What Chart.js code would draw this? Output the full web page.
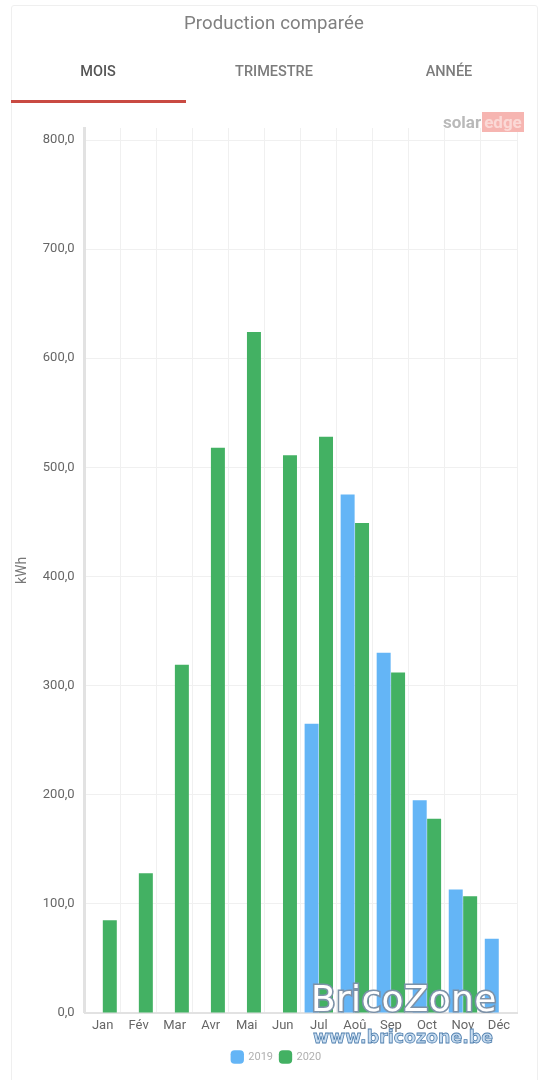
<!DOCTYPE html>
<html lang="fr"><head><meta charset="utf-8">
<script src="https://cdn.jsdelivr.net/npm/chart.js@4/dist/chart.umd.min.js"></script>
<style>
html,body{margin:0;padding:0;background:#fff;width:548px;height:1080px;overflow:hidden;font-family:Roboto,sans-serif}
#card{position:absolute;left:11px;top:5px;width:525px;height:1090px;border:1px solid #efefef;border-radius:3px}
#wrap{position:absolute;left:0;top:0;width:548px;height:1080px}
.t{position:absolute;white-space:nowrap;transform:translateX(-50%)}
#title{left:274px;top:12px;font-size:18.6px;color:#808080;letter-spacing:.1px}
.tab{top:63px;font-size:14.5px;font-weight:500;color:#7c7c7c}
#line{position:absolute;left:11px;top:100px;width:175px;height:3px;background:#c94a42}
#logo{position:absolute;left:443px;top:112px;font:700 17px Roboto,sans-serif;color:#b9b9b9;white-space:nowrap}
#logo span{background:#f6b5b1;color:#fbd9d6;padding:0 2px;margin-left:1px}
#wm1{position:absolute;left:311px;top:978px;font:400 36px "DejaVu Sans",sans-serif;color:#fff;-webkit-text-stroke:3.2px #7d92a8;paint-order:stroke fill;letter-spacing:.3px;white-space:nowrap}
#wm2{position:absolute;left:313px;top:1027px;font:700 17.4px "DejaVu Sans",sans-serif;color:#c9ddf0;-webkit-text-stroke:.8px #4f7fae;white-space:nowrap}
</style></head><body>
<div id="card"></div>
<div id="wrap"><canvas id="c" width="548" height="1080"></canvas></div>
<div class="t" id="title">Production comparée</div>
<div class="t tab" style="left:98px;color:#555">MOIS</div>
<div class="t tab" style="left:274px">TRIMESTRE</div>
<div class="t tab" style="left:449px">ANNÉE</div>
<div id="line"></div>
<div id="logo">solar<span>edge</span></div>
<div id="wm1">BricoZone</div>
<div id="wm2">www.bricozone.be</div>
<script>
const categories=["Jan","Fév","Mar","Avr","Mai","Jun","Jul","Aoû","Sep","Oct","Nov","Déc"];
const values2019=[null,null,null,null,null,null,265,475,330,195,113,68];
const values2020=[85,128,319,518,624,511,528,449,312,178,107,null];
const yMax=811, yStep=100;
const shiftLegend={id:'shiftLegend',afterLayout(chart){chart.legend.left+=11;chart.legend.right+=11;}};
new Chart(document.getElementById('c'),{
 type:'bar',
 plugins:[shiftLegend],
 data:{labels:categories,datasets:[
  {label:'2019',data:values2019,backgroundColor:'#64b5f6',categoryPercentage:.8,barPercentage:.97},
  {label:'2020',data:values2020,backgroundColor:'#43b163',categoryPercentage:.8,barPercentage:.97}]},
 options:{responsive:false,animation:false,
  layout:{padding:{top:128,left:14,right:31,bottom:7.5}},
  plugins:{tooltip:{enabled:false},title:{display:false},
   legend:{position:'bottom',labels:{usePointStyle:true,pointStyle:'rectRounded',boxWidth:13,boxHeight:13,padding:7,color:'#b0b0b0',font:{family:'Roboto',size:11}}}},
  scales:{
   x:{grid:{color:'#f0f0f0',drawTicks:false,lineWidth:1},border:{color:'#e2e2e2',width:2},
      afterFit(s){s.height+=6;},
      ticks:{color:'#666',font:{family:'Roboto',size:13},padding:5,maxRotation:0,autoSkip:false}},
   y:{min:0,max:yMax,grid:{color:'#f0f0f0',drawTicks:false},border:{color:'#e2e2e2',width:3},
      title:{display:true,text:'kWh',color:'#777',font:{family:'Roboto',size:14},padding:{top:0,bottom:2}},
      ticks:{stepSize:yStep,includeBounds:false,color:'#666',font:{family:'Roboto',size:13},padding:10,
             callback:v=>v.toFixed(1).replace('.',',')}}
  }}
});
</script></body></html>
